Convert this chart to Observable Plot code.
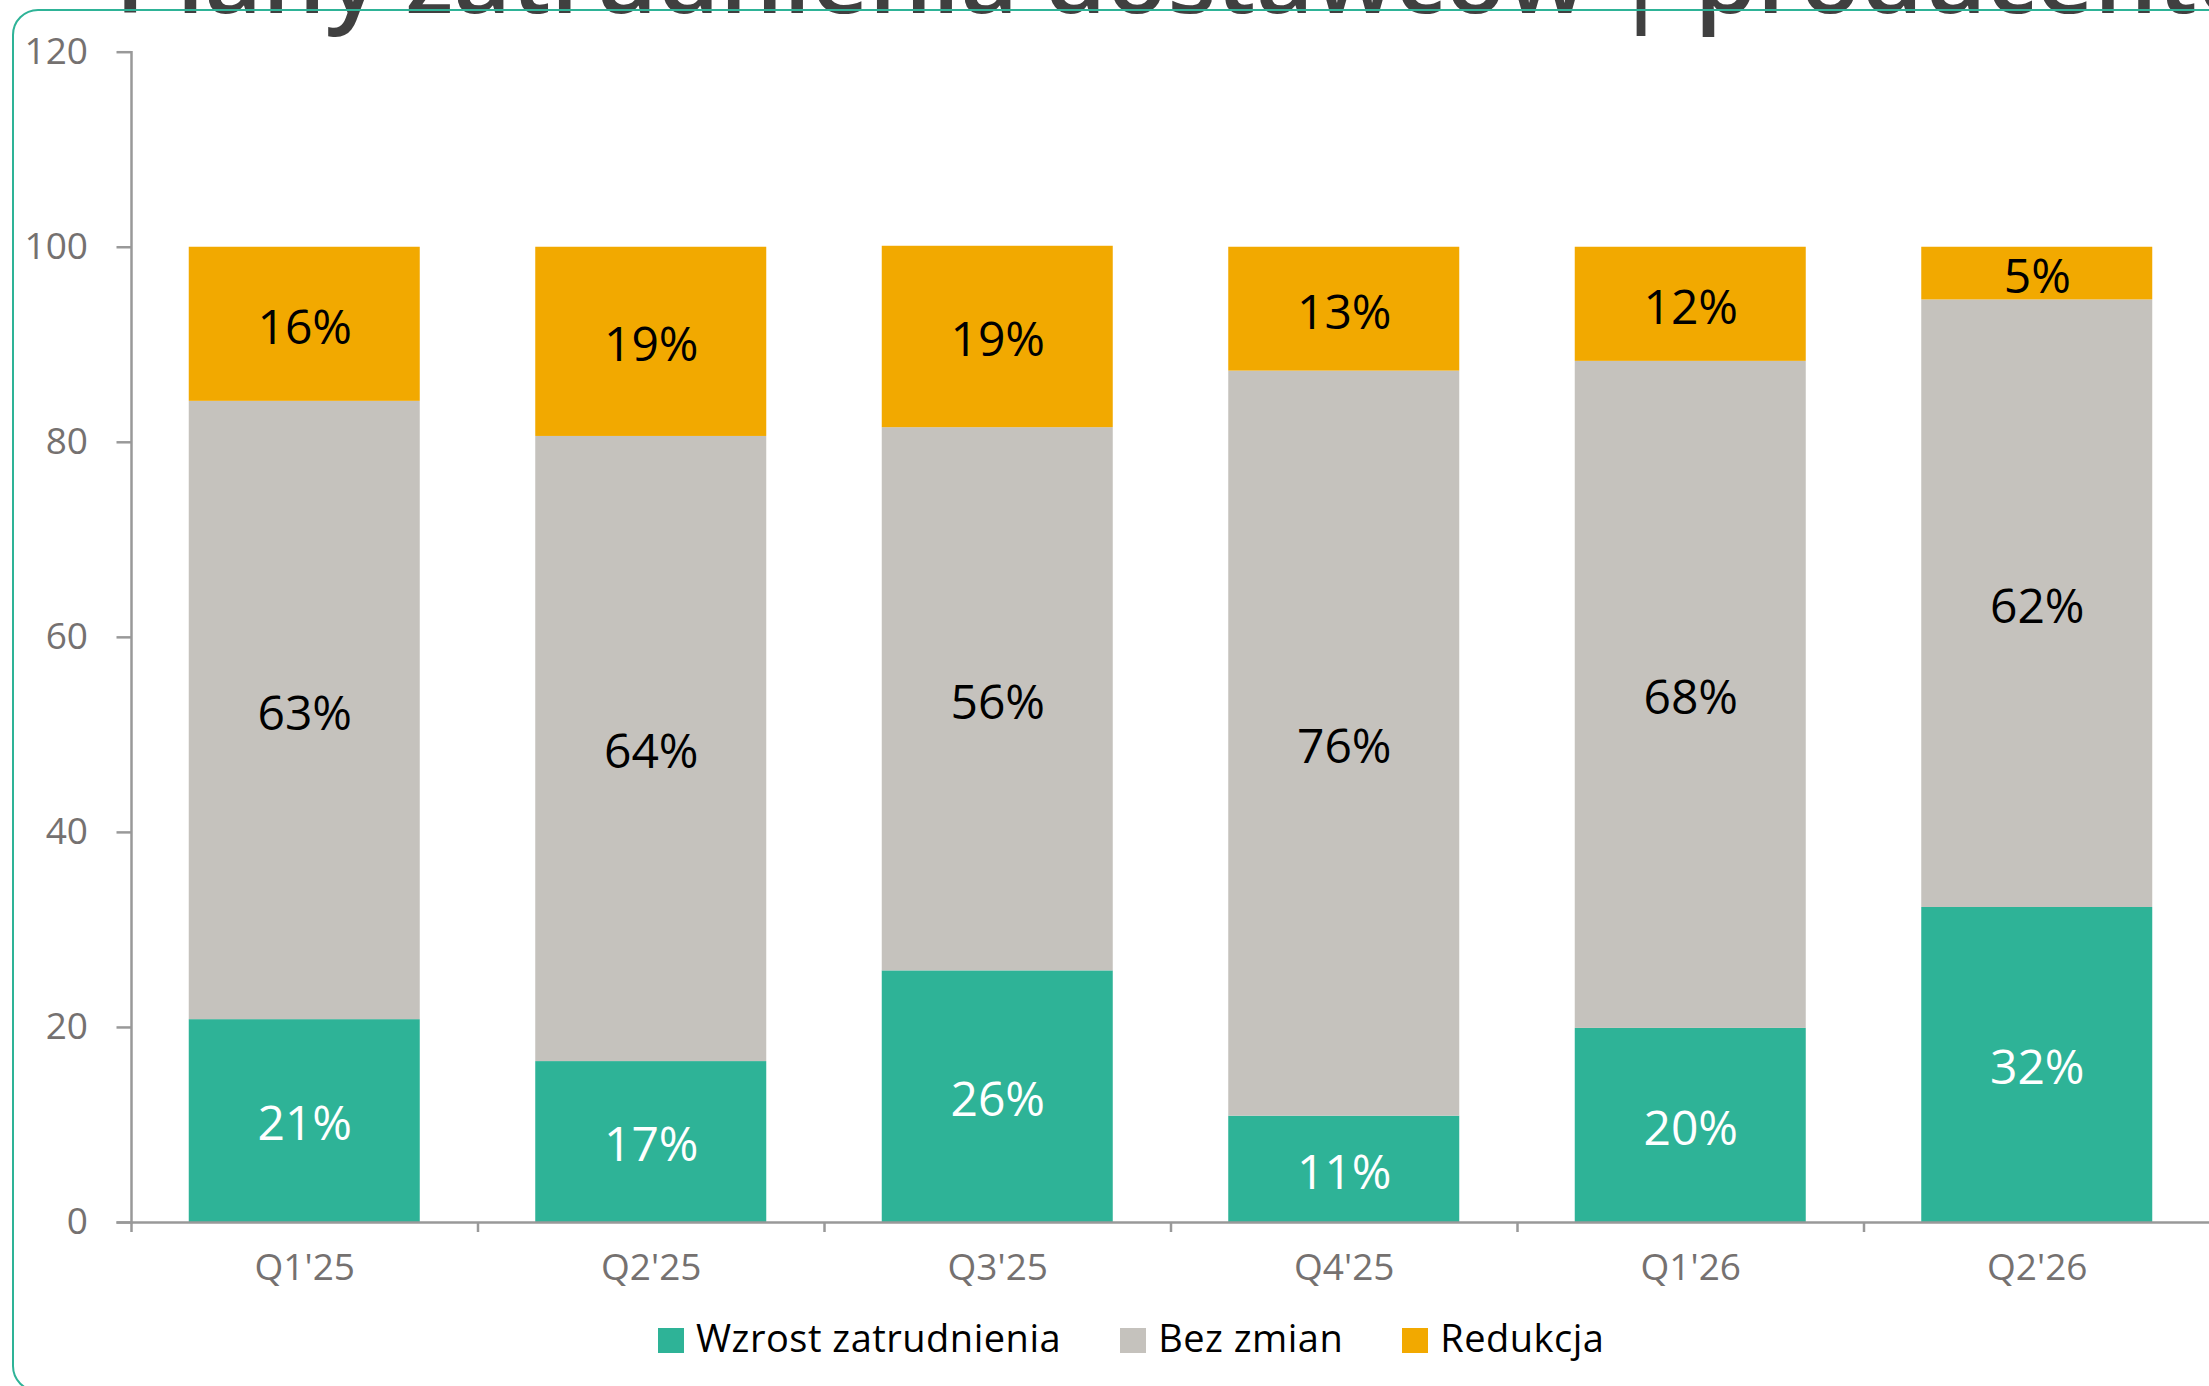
<!DOCTYPE html>
<html><head><meta charset="utf-8">
<script src="https://cdn.jsdelivr.net/npm/d3@7"></script>
<script src="https://cdn.jsdelivr.net/npm/@observablehq/plot@0.6"></script>
<style>
html,body{margin:0;padding:0;width:2209px;height:1386px;overflow:hidden;background:#fff;font-family:"Open Sans",sans-serif;}
#title{position:absolute;left:115px;top:-76px;font-size:100px;font-weight:600;line-height:100px;color:#404040;white-space:nowrap;}
#chart{position:absolute;left:0;top:0;}
#chart svg{max-width:none !important;}
#legend{position:absolute;left:658px;top:1317px;display:flex;align-items:center;font-size:38px;letter-spacing:0.5px;color:#000;line-height:40px;white-space:nowrap;}
.item{display:flex;align-items:center;margin-right:59px}
.sw{width:26px;height:25px;margin-right:12px;position:relative;top:3.5px}
#card{position:absolute;left:12px;top:9px;width:2400px;height:1379px;border:2px solid #2eb397;border-radius:26px;pointer-events:none;}
</style></head>
<body>
<div id="title"></div>
<div id="chart"></div>
<div id="legend"></div>
<div id="card"></div>
<script>
const quarters = ["Q1'25","Q2'25","Q3'25","Q4'25","Q1'26","Q2'26"];
const seriesNames = ["Wzrost zatrudnienia","Bez zmian","Redukcja"];
const wzrost = [20.8,16.5,25.8,10.9,19.9,32.3];
const bezZmian = [63.4,64.1,55.7,76.4,68.4,62.3];
const redukcja = [15.8,19.4,18.6,12.7,11.7,5.4];
const seriesColors = ["#2eb397","#c5c2bd","#f2a900"];
const yTicks = [0,20,40,60,80,100,120];
const titleText = "Plany zatrudnienia dostawców | producentów";

document.getElementById("title").textContent = titleText;

const seriesValues = [wzrost, bezZmian, redukcja];
const rows = quarters.flatMap((q,i)=>seriesNames.map((s,k)=>({q, series:s, value: seriesValues[k][i]})));

const W = 2260, mL = 131, mR = 50;
const step = (W - mL - mR) / quarters.length;
const fmt = d => Math.round(d.value) + "%";
const axisGrey = "#999999", labelGrey = "#757170";

const plot = Plot.plot({
  width: W, height: 1386,
  marginLeft: mL, marginRight: mR, marginTop: 51.7, marginBottom: 164,
  style: {fontFamily: '"Open Sans", sans-serif', fontSize: "37px", background: "transparent", overflow: "visible", maxWidth: "none"},
  x: {domain: quarters, paddingInner: 1/3, paddingOuter: 1/6, round: false, label: null},
  y: {domain: [0, 120], label: null},
  color: {domain: seriesNames, range: seriesColors},
  marks: [
    Plot.barY(rows, {x: "q", y: "value", fill: "series", order: seriesNames}),
    Plot.text(rows, Plot.stackY({x: "q", y: "value", z: "series", order: seriesNames,
      text: d => d.series === seriesNames[0] ? fmt(d) : null, fill: "white", fontSize: 48, dy: 4})),
    Plot.text(rows, Plot.stackY({x: "q", y: "value", z: "series", order: seriesNames,
      text: d => d.series !== seriesNames[0] ? fmt(d) : null, fill: "black", fontSize: 48, dy: 4})),
    Plot.axisY({ticks: yTicks, tickSize: 14.5, tickPadding: 29, stroke: axisGrey, strokeWidth: 2.5, fill: labelGrey, fontSize: 37, label: null}),
    Plot.axisX({tickSize: 0, tickPadding: 31, fill: labelGrey, fontSize: 37, label: null}),
    Plot.frame({anchor: "left", stroke: axisGrey, strokeWidth: 2.5}),
    Plot.ruleY([0], {stroke: axisGrey, strokeWidth: 2.5, insetLeft: -14.5}),
    Plot.ruleX(quarters, {x: d => d, y1: 0, y2: 0, insetBottom: -10, dx: -step/2, stroke: axisGrey, strokeWidth: 2.5})
  ]
});
plot.style.maxWidth = "none";
plot.style.width = W + "px";
plot.style.height = "1386px";
document.getElementById("chart").appendChild(plot);

const legend = document.getElementById("legend");
seriesNames.forEach((s, k) => {
  const item = document.createElement("div");
  item.className = "item";
  const sw = document.createElement("div");
  sw.className = "sw";
  sw.style.background = seriesColors[k];
  const label = document.createElement("span");
  label.textContent = s;
  item.appendChild(sw); item.appendChild(label);
  legend.appendChild(item);
});
</script>
</body></html>
